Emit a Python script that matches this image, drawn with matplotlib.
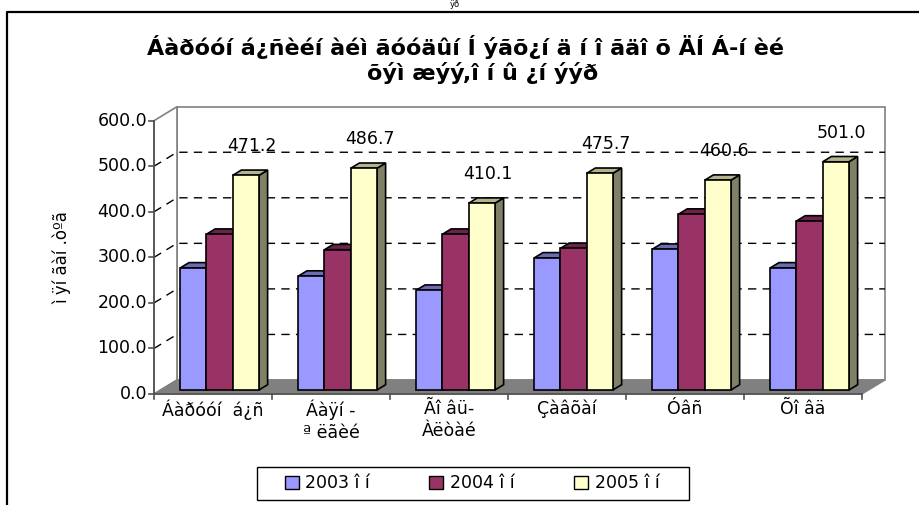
import matplotlib
matplotlib.use('Agg')
import matplotlib.pyplot as plt
from matplotlib.patches import Polygon, Patch, Rectangle
from matplotlib.lines import Line2D

# ---------------- data ----------------
categories = ['Áàðóóí  á¿ñ', 'Áàÿí -\nª ëãèé', 'Ãî âü-\nÀëòàé', 'Çàâõàí', 'Óâñ', 'Õî âä']
series_names = ['2003 î í', '2004 î í', '2005 î í']
v2003 = [268, 250, 219, 290, 309, 268]
v2004 = [342, 308, 342, 311, 386, 371]
v2005 = [471.2, 486.7, 410.1, 475.7, 460.6, 501.0]
yticks = [0, 100, 200, 300, 400, 500, 600]
title_line1 = 'Áàðóóí á¿ñèéí àéì ãóóäûí Í ýãõ¿í ä í î ãäî õ ÄÍ Á-í èé'
title_line2 = 'õýì æýý,î í û ¿í ýýð'
ylabel = 'ì ÿí ãàí .òºã'

series = [v2003, v2004, v2005]
front_cols = ['#9999FF', '#993366', '#FFFFCC']
dark_cols = ['#6B6BB3', '#6B2447', '#B3B38F']
side_cols = ['#5C5C99', '#5C1F3D', '#808066']

plt.rcParams['font.family'] = ['DejaVu Sans']

W, H = 920, 505
fig = plt.figure(figsize=(W / 100, H / 100), dpi=100)
ax_left, ax_right, ax_bot, ax_top = 154, 862, 394, 120.7
ax = fig.add_axes([ax_left / W, (H - ax_bot) / H, (ax_right - ax_left) / W, (ax_bot - ax_top) / H])
ncat = len(categories)
ymax = 600
ax.set_xlim(0, ncat)
ax.set_ylim(0, ymax)
ax.axis('off')

sx = (ax_right - ax_left) / ncat
sy = (ax_bot - ax_top) / ymax
def dx(px):
    return px / sx
def dy(px):
    return px / sy

DX, DY = 23, 14
grey = '#808080'

# walls & floor
back = Polygon([(dx(DX), dy(DY)), (ncat + dx(DX), dy(DY)), (ncat + dx(DX), ymax + dy(DY)), (dx(DX), ymax + dy(DY))],
               closed=True, facecolor='white', edgecolor=grey, lw=1.2, clip_on=False, zorder=1)
side = Polygon([(0, 0), (dx(DX), dy(DY)), (dx(DX), ymax + dy(DY)), (0, ymax)],
               closed=True, facecolor='white', edgecolor=grey, lw=1.2, clip_on=False, zorder=1)
floor = Polygon([(0, 0), (ncat, 0), (ncat + dx(DX), dy(DY)), (dx(DX), dy(DY))],
                closed=True, facecolor=grey, edgecolor=grey, lw=1, clip_on=False, zorder=2)
for p in (back, side, floor):
    ax.add_patch(p)

for v in yticks[1:-1]:
    ax.plot([0, dx(DX), ncat + dx(DX)], [v, v + dy(DY), v + dy(DY)], color='black', lw=1,
            ls=(0, (6, 4.5)), clip_on=False, zorder=3)

# axes lines and ticks
ax.plot([0, 0], [0, ymax], color='#505050', lw=1.2, clip_on=False, zorder=4)
ax.plot([0, ncat], [0, 0], color='#505050', lw=1.2, clip_on=False, zorder=4)
for v in yticks:
    ax.plot([-dx(5), 0], [v, v], color='#505050', lw=1.2, clip_on=False, zorder=4)
    ax.text(-dx(7), v, f'{v:.1f}', ha='right', va='center', fontsize=12.5)
for i in range(ncat + 1):
    ax.plot([i, i], [0, -dy(5)], color='#505050', lw=1.2, clip_on=False, zorder=4)
for i, c in enumerate(categories):
    ax.text(i + 0.5, -dy(6), c, ha='center', va='top', fontsize=12.5, linespacing=1.25)

# bars
bw = 1 / 4.5
f = 0.286
ox, oy = dx(DX * f), dy(DY * f)
bdx, bdy = dx(8.7), dy(5.3)
for j, vals in enumerate(series):
    xs = [i + 0.5 - 1.5 * bw + j * bw + ox for i in range(ncat)]
    for x0, v in zip(xs, vals):
        t = v + oy
        top = Polygon([(x0, t), (x0 + bw, t), (x0 + bw + bdx, t + bdy), (x0 + bdx, t + bdy)], closed=True,
                      facecolor=dark_cols[j], edgecolor='black', lw=1.2, zorder=10 + 2 * j, clip_on=False)
        sd = Polygon([(x0 + bw, oy), (x0 + bw + bdx, oy + bdy), (x0 + bw + bdx, t + bdy), (x0 + bw, t)], closed=True,
                     facecolor=side_cols[j], edgecolor='black', lw=1.2, zorder=10 + 2 * j, clip_on=False)
        ax.add_patch(sd)
        ax.add_patch(top)
    ax.bar(xs, vals, width=bw, bottom=oy, align='edge', facecolor=front_cols[j], edgecolor='black',
           lw=1.2, zorder=11 + 2 * j, clip_on=False)
    if j == 2:
        for x0, v in zip(xs, vals):
            ax.annotate(f'{v:.1f}', xy=(x0 + bw / 2 + dx(6), v + oy + dy(29)), ha='center', va='center',
                        fontsize=12.5, zorder=30, annotation_clip=False)

# y label
fig.text(62 / W, 1 - 258 / H, ylabel, rotation=90, ha='center', va='center', fontsize=12)

# title
fig.text(466 / W, 1 - 47 / H, title_line1, ha='center', va='center', fontsize=16, fontweight='bold')
fig.text(483 / W, 1 - 73 / H, title_line2, ha='center', va='center', fontsize=16, fontweight='bold')
fig.text(455 / W, 1.0, 'ÿð', ha='center', va='top', fontsize=6)

# border
fig.add_artist(Line2D([7.5 / W, 7.5 / W, 1], [0, 1 - 12 / H, 1 - 12 / H], transform=fig.transFigure,
                      color='black', lw=1.6))

# legend
fig.add_artist(Rectangle((257 / W, 1 - 500 / H), (689 - 257) / W, 33 / H, transform=fig.transFigure,
                         facecolor='white', edgecolor='black', lw=1))
handles = [Patch(facecolor=front_cols[j], edgecolor='black', lw=1) for j in range(3)]
leg = fig.legend(handles, series_names, loc='center', bbox_to_anchor=(472 / W, 1 - 483.5 / H), ncol=3,
                 fontsize=12.5, frameon=False, handlelength=0.8,
                 handleheight=0.8, handletextpad=0.4, columnspacing=3.4, borderpad=0.35)

fig.savefig('out.png', dpi=100)
